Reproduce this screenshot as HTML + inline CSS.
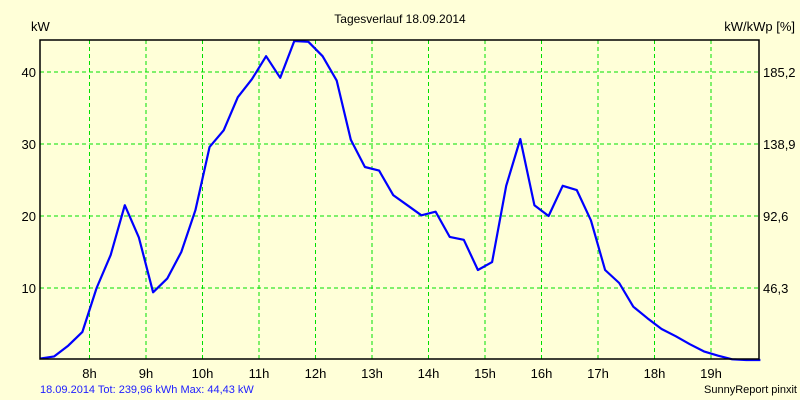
<!DOCTYPE html>
<html><head><meta charset="utf-8"><style>
body{margin:0;background:#ffffd8;}
svg{display:block;font-family:"Liberation Sans",sans-serif;}
</style></head><body>
<svg id="c" width="800" height="400">
<rect width="800" height="400" fill="#ffffd8"/>
<text x="400" y="23" font-size="12" text-anchor="middle" fill="#000">Tagesverlauf 18.09.2014</text>
<text x="31" y="31" font-size="13" fill="#000">kW</text>
<text x="795" y="31" font-size="13" text-anchor="end" fill="#000">kW/kWp [%]</text>
<text x="40" y="393" font-size="11" fill="#2020ff">18.09.2014 Tot: 239,96 kWh Max: 44,43 kW</text>
<text x="797" y="393" font-size="11" text-anchor="end" fill="#000">SunnyReport pinxit</text>
<g id="grid"></g><g id="marks"></g>
<rect x="40" y="40" width="719" height="319" fill="none" stroke="#000" stroke-width="1.5"/>
</svg>
<script>
const hours=[8,9,10,11,12,13,14,15,16,17,18,19];
const yTicks=[10,20,30,40];
const y2Labels=["46,3","92,6","138,9","185,2"];
const startHour=7.125;
const stepHours=0.25;
const power=[0.2,0.5,2.0,3.9,10.0,14.6,21.5,17.0,9.4,11.3,15.0,20.8,29.6,31.9,36.5,39.0,42.2,39.2,44.3,44.2,42.2,38.8,30.6,26.8,26.3,22.9,21.5,20.1,20.6,17.1,16.7,12.5,13.6,24.2,30.7,21.5,20.0,24.2,23.6,19.4,12.5,10.7,7.4,5.8,4.3,3.3,2.2,1.2,0.6,0.1,0,0];
const NS="http://www.w3.org/2000/svg";
function xs(h){return 89.5+(h-8)*56.5;}
function ys(v){return 360-v*7.2;}
const grid=document.getElementById('grid'),marks=document.getElementById('marks');
function mk(tag,attrs,parent,txt){const e=document.createElementNS(NS,tag);for(const k in attrs)e.setAttribute(k,attrs[k]);if(txt!==undefined)e.textContent=txt;parent.appendChild(e);return e;}
hours.forEach(h=>{const x=xs(h);
 const l=mk('line',{x1:x,x2:x,y1:40,y2:359,stroke:'#00e000','stroke-dasharray':'4,3'},grid);
 
 
 const t=mk('text',{x:x,y:378,'font-size':13,'text-anchor':'middle'},grid,h+'h');
 
 
});
yTicks.forEach((v,i)=>{const y=ys(v);
 const l=mk('line',{x1:40,x2:759,y1:y,y2:y,stroke:'#00e000','stroke-dasharray':'4,3'},grid);
 
 
 const t=mk('text',{x:36,y:y+5,'font-size':13,'text-anchor':'end'},grid,String(v));
 
 
 const t2=mk('text',{x:763,y:y+5,'font-size':13},grid,y2Labels[i]);
 
 
});
const pts=power.map((v,i)=>xs(startHour+i*stepHours).toFixed(1)+','+ys(v).toFixed(1)).join(' ');
const pl=mk('polyline',{points:pts,fill:'none',stroke:'#0000ff','stroke-width':2.2,'stroke-linejoin':'round'},marks);


</script>
</body></html>
